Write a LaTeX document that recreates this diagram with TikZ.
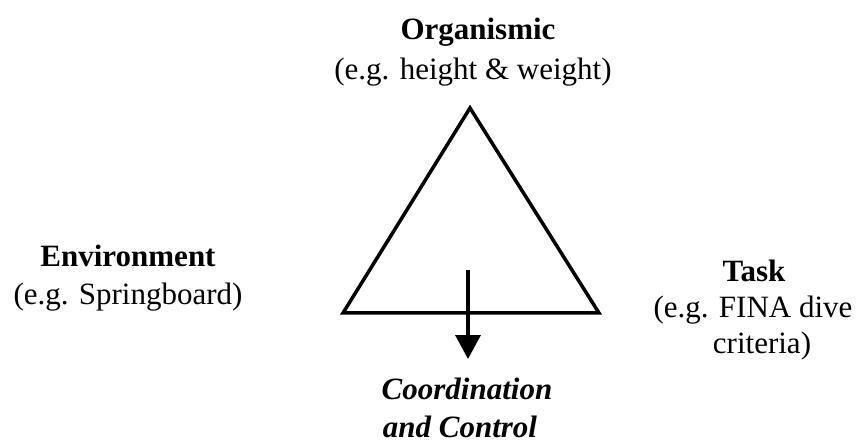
\documentclass[tikz,border=0pt]{standalone}
\usepackage{fontspec}
\setmainfont{Liberation Serif}
\usetikzlibrary{arrows.meta}
\begin{document}
\begin{tikzpicture}[x=1pt,y=-1pt,
  lbl/.style={anchor=base,inner sep=0pt,font=\fontsize{31}{37}\selectfont},
  lblb/.style={lbl,font=\fontsize{31}{37}\selectfont\bfseries},
  lblbi/.style={lbl,font=\fontsize{31}{37}\selectfont\bfseries\itshape},
  tri/.style={line width=3.5pt,line join=miter},
  arr/.style={line width=3.5pt,-{Triangle[width=25pt,length=24pt]}}]
\useasboundingbox (0,0) rectangle (856,443);
\coordinate (apex) at (470,108);
\coordinate (bl) at (343,313);
\coordinate (br) at (599,313);
\draw[tri] (apex) -- (bl) -- (br) -- cycle;
\coordinate (astart) at (468,270);
\coordinate (atip) at (468,359);
\draw[arr] (astart) -- (atip);
\node[lblb] (org1) at (478,40) {Organismic};
\node[lbl] (org2) at (473,80) {(e.g. height \& weight)};
\node[lblb] (env1) at (128,267) {Environment};
\node[lbl] (env2) at (128,305) {(e.g. Springboard)};
\node[lblb] (task1) at (754,282) {Task};
\node[lbl] (task2) at (753,318) {(e.g. FINA dive};
\node[lbl] (task3) at (762,353) {criteria)};
\node[lblbi] (cc1) at (467,399) {Coordination};
\node[lblbi] (cc2) at (460,437) {and Control};
\end{tikzpicture}
\end{document}
